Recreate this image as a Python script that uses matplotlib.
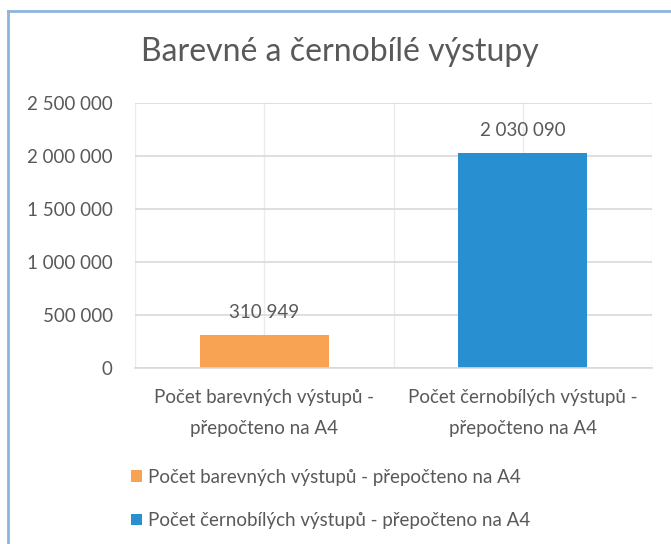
import matplotlib
matplotlib.use("Agg")
import matplotlib.pyplot as plt
from matplotlib.lines import Line2D
from matplotlib.patches import Patch
from matplotlib.ticker import FuncFormatter, MultipleLocator

title = "Barevné a černobílé výstupy"
categories = ["Počet barevných výstupů -\npřepočteno na A4",
              "Počet černobílých výstupů -\npřepočteno na A4"]
series_names = ["Počet barevných výstupů - přepočteno na A4",
                "Počet černobílých výstupů - přepočteno na A4"]
values = [310949, 2030090]
colors = ["#F8A253", "#2890D0"]
y_max = 2500000
y_step = 500000

TXT = "#595959"
FS = 13.5
plt.rcParams['font.family'] = ['Lato', 'DejaVu Sans']

fig = plt.figure(figsize=(6.71, 5.44), dpi=100)
ax = fig.add_axes([135/671, 1-368/544, (652-135)/671, (368-103)/544])

x = list(range(len(values)))
ax.bar(x, values, width=0.5, color=colors, zorder=3)
ax.set_xlim(-0.5, len(values)-0.5)
ax.set_ylim(0, y_max)
ax.yaxis.set_major_locator(MultipleLocator(y_step))
ax.yaxis.set_major_formatter(FuncFormatter(lambda v, p: f"{v:,.0f}".replace(",", " ")))

# gridlines
ax.grid(axis='y', color='#D9D9D9', linewidth=1.2, zorder=0)
for xv in [-0.5, 0, 0.5, 1, 1.5]:
    ax.axvline(xv, color='#EBEBEB', linewidth=1.0, zorder=0)

for s in ['top', 'right', 'left']:
    ax.spines[s].set_visible(False)
ax.spines['bottom'].set_color('#D9D9D9')
ax.spines['bottom'].set_linewidth(1.2)
ax.spines['bottom'].set_zorder(4)

ax.tick_params(axis='both', length=0, labelsize=FS, colors=TXT)
ax.tick_params(axis='y', pad=16)
ax.tick_params(axis='x', pad=15)
ax.set_xticks(x)
ax.set_xticklabels(categories, linespacing=2.0)

for xi, v in zip(x, values):
    ax.annotate(f"{v:,.0f}".replace(",", " "), (xi, v), xytext=(0, 10),
                textcoords='offset points', ha='center', va='bottom',
                fontsize=FS, color=TXT)

fig.text(340/671, 1-52/544, title, ha='center', va='center', fontsize=23, color=TXT)

handles = [Patch(facecolor=c, edgecolor='none') for c in colors]
leg = fig.legend(handles, series_names, loc='upper left',
                 bbox_to_anchor=(114/671, 1-452/544), frameon=False,
                 fontsize=FS, handlelength=0.6, handleheight=0.6,
                 handletextpad=0.3, labelspacing=1.4)
for t in leg.get_texts():
    t.set_color(TXT)

# chart frame (left and top edge)
fig.add_artist(Line2D([8/671, 8/671], [0, 1-11/544], transform=fig.transFigure,
                      color='#8EB4DA', linewidth=2))
fig.add_artist(Line2D([8/671, 1], [1-11/544, 1-11/544], transform=fig.transFigure,
                      color='#8EB4DA', linewidth=2))

fig.savefig("out.png", dpi=100, facecolor='white')
